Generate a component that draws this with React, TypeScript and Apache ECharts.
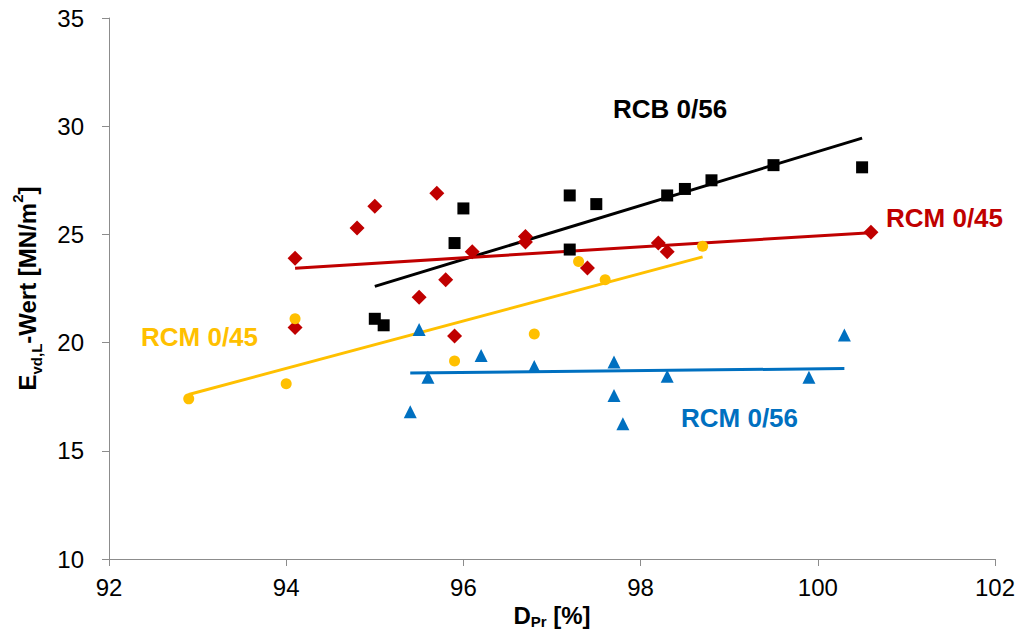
import React, { useEffect, useRef } from "react";
import * as echarts from "echarts";

const xTicks = [92, 94, 96, 98, 100, 102];
const yTicks = [10, 15, 20, 25, 30, 35];

const rcb056: number[][] = [
  [95.0, 21.1], [95.1, 20.8], [95.9, 24.6], [96.0, 26.2], [97.2, 26.8], [97.2, 24.3],
  [97.5, 26.4], [98.3, 26.8], [98.5, 27.1], [98.8, 27.5], [99.5, 28.2], [100.5, 28.1],
];
const rcb056Trend: number[][] = [[95.0, 22.6], [100.5, 29.45]];

const rcm045Red: number[][] = [
  [94.1, 23.9], [94.1, 20.7], [94.8, 25.3], [95.0, 26.3], [95.5, 22.1], [95.7, 26.9],
  [95.8, 22.9], [95.9, 20.3], [96.1, 24.2], [96.7, 24.9], [96.7, 24.65], [97.4, 23.45],
  [98.2, 24.6], [98.3, 24.2], [100.6, 25.1],
];
const rcm045RedTrend: number[][] = [[94.1, 23.44], [100.55, 25.07]];

const rcm045Yellow: number[][] = [
  [92.9, 17.4], [94.0, 18.1], [94.1, 21.1], [95.9, 19.15], [96.8, 20.4], [97.3, 23.75],
  [97.6, 22.9], [98.7, 24.45],
];
const rcm045YellowTrend: number[][] = [[92.9, 17.6], [98.7, 23.96]];

const rcm056: number[][] = [
  [95.4, 16.8], [95.5, 20.6], [95.6, 18.4], [96.2, 19.4], [96.8, 18.9], [97.7, 19.1],
  [97.7, 17.55], [97.8, 16.25], [98.3, 18.45], [99.9, 18.4], [100.3, 20.35],
];
const rcm056Trend: number[][] = [[95.4, 18.6], [100.3, 18.8]];

const BLACK = "#000000";
const RED = "#C00000";
const YELLOW = "#FFC000";
const BLUE = "#0070C0";
const FONT = '"Liberation Sans", Arial, sans-serif';

const makeRich = (lh: number) => ({
  b: { fontSize: 24, fontWeight: "bold", fontFamily: FONT, color: "#000", lineHeight: lh, verticalAlign: "middle" },
  sub: { fontSize: 15, fontWeight: "bold", fontFamily: FONT, color: "#000", lineHeight: 15, verticalAlign: "bottom" },
  sup: { fontSize: 15, fontWeight: "bold", fontFamily: FONT, color: "#000", lineHeight: 15, verticalAlign: "top" },
});

export default function App() {
  const ref = useRef<HTMLDivElement>(null);
  useEffect(() => {
    if (!ref.current) return;
    const chart = echarts.init(ref.current, undefined, { renderer: "svg" });
    const axisLine = { show: true, lineStyle: { color: "#8C8C8C", width: 1 } };
    const axisTick = { show: true, inside: false, length: 7, lineStyle: { color: "#8C8C8C" } };
    const scatter = (name: string, data: number[][], symbol: string, size: number, color: string) => ({
      name, type: "scatter", data, symbol, symbolSize: size,
      itemStyle: { color, opacity: 1 }, z: 3,
    });
    const trend = (name: string, data: number[][], color: string) => ({
      name, type: "line", data, symbol: "none", lineStyle: { color, width: 3 }, z: 2,
    });
    const label = (text: string, x: number, y: number, color: string) => ({
      type: "text", x, y,
      style: { text, fill: color, font: `bold 26px ${FONT}`, textAlign: "left", textVerticalAlign: "middle" },
    });
    chart.setOption({
      animation: false,
      backgroundColor: "#fff",
      grid: { left: 109, right: 21, top: 18, bottom: 72, outerBoundsMode: "none", containLabel: false },
      xAxis: {
        type: "value", min: xTicks[0], max: xTicks[xTicks.length - 1], interval: 2,
        axisLine, axisTick, splitLine: { show: false },
        axisLabel: { color: "#000", fontSize: 24, fontFamily: FONT, margin: 16 },
        name: "{b|D}{sub|Pr}{b| [%]}", nameLocation: "middle", nameGap: 43,
        nameTextStyle: { rich: makeRich(27) },
      },
      yAxis: {
        type: "value", min: yTicks[0], max: yTicks[yTicks.length - 1], interval: 5,
        axisLine, axisTick, splitLine: { show: false },
        axisLabel: { color: "#000", fontSize: 24, fontFamily: FONT, margin: 25 },
        name: "{b|E}{sub|vd,L}{b|-Wert [MN/m}{sup|2}{b|]}", nameLocation: "middle", nameGap: 65, nameRotate: 90,
        nameTextStyle: { rich: makeRich(34) },
      },
      series: [
        trend("RCB 0/56 Trend", rcb056Trend, BLACK),
        trend("RCM 0/45 rot Trend", rcm045RedTrend, RED),
        trend("RCM 0/45 gelb Trend", rcm045YellowTrend, YELLOW),
        trend("RCM 0/56 Trend", rcm056Trend, BLUE),
        scatter("RCB 0/56", rcb056, "rect", 12, BLACK),
        scatter("RCM 0/45 rot", rcm045Red, "diamond", 15, RED),
        scatter("RCM 0/45 gelb", rcm045Yellow, "circle", 11, YELLOW),
        scatter("RCM 0/56", rcm056, "triangle", 13, BLUE),
      ],
      graphic: [
        label("RCB 0/56", 613, 109, BLACK),
        label("RCM 0/45", 886, 218, RED),
        label("RCM 0/45", 141, 337, YELLOW),
        label("RCM 0/56", 681, 418, BLUE),
      ],
    });
    return () => chart.dispose();
  }, []);
  return <div ref={ref} style={{ position: "fixed", left: 0, top: 0, width: 1016, height: 631 }} />;
}
